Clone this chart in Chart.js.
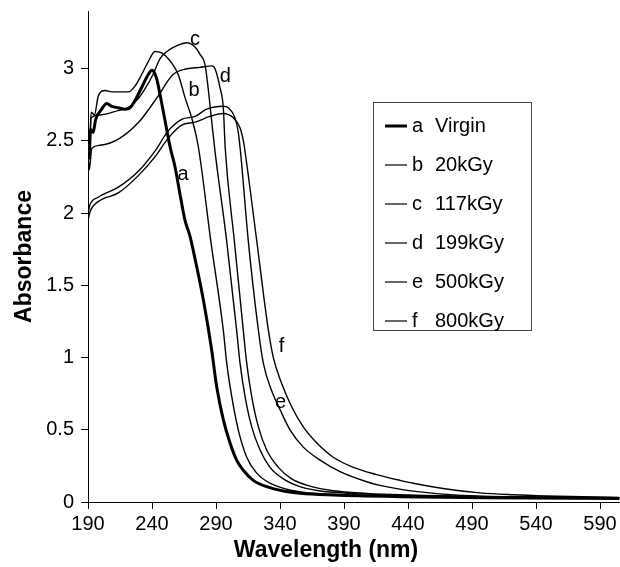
<!DOCTYPE html>
<html lang="en">
<head>
    <meta charset="UTF-8">
    <title>Absorbance spectra</title>
    <script src="https://cdn.jsdelivr.net/npm/chart.js"></script>
    <style>
        html, body {
            margin: 0;
            padding: 0;
            background-color: #fff;
        }
        #wrap {
            width: 620px;
            height: 567px;
        }
    </style>
</head>
<body>
    <div id="wrap">
        <canvas id="uv-chart" width="620" height="567"></canvas>
    </div>

    <script>
        // wavelength (nm) and absorbance
        const aNm  = [190, 190.8, 192, 194, 196, 200.7, 204.6, 208.5, 213.7, 218.9, 222.8, 226.7, 231.9, 237.1, 240, 241.5, 243.7, 246.3, 250.2, 254.1, 258, 261.9, 265.8, 269.7, 274.9, 280.1, 286.5, 290.5, 295.7, 300.9, 306.1, 311.3, 319.1, 329.6, 342.6, 355.6, 381.6, 433.8, 500, 605];
        const aAbs = [2.45, 2.38, 2.58, 2.56, 2.65, 2.72, 2.76, 2.74, 2.73, 2.72, 2.73, 2.78, 2.87, 2.96, 2.99, 2.98, 2.93, 2.82, 2.64, 2.46, 2.32, 2.13, 1.95, 1.84, 1.63, 1.40, 1.06, 0.80, 0.57, 0.41, 0.29, 0.22, 0.15, 0.106, 0.076, 0.06, 0.048, 0.037, 0.03, 0.025];

        const bNm  = [190, 191, 192.5, 195, 198, 203.3, 208.5, 213.7, 221.5, 226.7, 231.9, 237.1, 242.3, 247.5, 255.4, 260.5, 265.8, 271, 276.2, 285.9, 295.7, 298.4, 302.3, 307.4, 314, 321.8, 332.2, 345.2, 360.8, 381.6, 433.8, 500, 605];
        const bAbs = [2.62, 2.45, 2.70, 2.68, 2.81, 2.85, 2.84, 2.84, 2.84, 2.88, 2.96, 3.05, 3.12, 3.11, 3.04, 2.96, 2.80, 2.66, 2.46, 1.81, 1.19, 0.96, 0.73, 0.50, 0.31, 0.20, 0.13, 0.088, 0.064, 0.053, 0.041, 0.033, 0.028];

        const cNm  = [190, 191, 192.5, 199.4, 213.4, 221.2, 229, 234.5, 240.8, 246.3, 251.7, 259.5, 267.3, 273.6, 277.5, 281.4, 283.8, 286.6, 289.2, 298.3, 306.1, 308.8, 312.7, 317.9, 324.4, 332.2, 342.6, 355.6, 371.3, 394.7, 433.8, 500, 605];
        const cAbs = [2.55, 2.40, 2.66, 2.68, 2.71, 2.73, 2.79, 2.86, 2.96, 3.07, 3.12, 3.16, 3.18, 3.15, 3.10, 3.03, 2.87, 2.64, 2.43, 1.81, 1.19, 0.96, 0.73, 0.52, 0.36, 0.24, 0.16, 0.106, 0.076, 0.06, 0.046, 0.036, 0.03];

        const dNm  = [190, 191, 193, 199.4, 215, 230.6, 243.9, 256.4, 267.3, 277.5, 286.6, 289.2, 293.1, 295.7, 297.2, 304.3, 311.3, 314, 317.9, 323.1, 329.6, 338.7, 349.1, 363.4, 381.6, 407.7, 433.8, 500, 605];
        const dAbs = [2.42, 2.30, 2.45, 2.47, 2.52, 2.64, 2.80, 2.96, 3.00, 3.01, 3.02, 3.00, 2.87, 2.73, 2.45, 1.81, 1.19, 0.96, 0.73, 0.52, 0.36, 0.24, 0.16, 0.11, 0.078, 0.06, 0.05, 0.038, 0.03];

        const eNm  = [190, 191.6, 198, 213.7, 229.3, 242.3, 252.7, 263.2, 273.6, 282.7, 295.7, 299.6, 304.8, 307.4, 309.2, 315.2, 323.1, 327, 333.5, 340, 347.8, 358.2, 371.3, 386.9, 407.7, 418, 444, 470, 496, 548, 605];
        const eAbs = [2.00, 2.06, 2.11, 2.18, 2.29, 2.43, 2.57, 2.65, 2.67, 2.72, 2.74, 2.73, 2.66, 2.56, 2.42, 1.81, 1.19, 0.96, 0.77, 0.64, 0.50, 0.38, 0.29, 0.21, 0.14, 0.115, 0.075, 0.053, 0.041, 0.032, 0.028];

        const fNm  = [190, 191.6, 198, 213.7, 229.3, 242.3, 252.7, 263.2, 273.6, 285.2, 295.7, 303.5, 308.8, 311.4, 312.8, 321.8, 330.9, 334.8, 341.3, 349.1, 358.2, 368.6, 381.6, 397.3, 415.5, 433.8, 444, 470, 496, 522, 548, 605];
        const fAbs = [1.95, 2.01, 2.08, 2.14, 2.26, 2.39, 2.52, 2.61, 2.63, 2.67, 2.69, 2.66, 2.59, 2.50, 2.42, 1.81, 1.19, 1.00, 0.82, 0.66, 0.52, 0.41, 0.31, 0.24, 0.19, 0.15, 0.13, 0.09, 0.063, 0.05, 0.042, 0.032];

        const seriesLetters = ['a', 'b', 'c', 'd', 'e', 'f'];
        const seriesNames = ['Virgin', '20kGy', '117kGy', '199kGy', '500kGy', '800kGy'];

        // where the letters sit next to the curves (data coordinates)
        const labelNm  = [264.2, 272.8, 273.6, 297.3, 340.4, 341.2];
        const labelAbs = [2.27, 2.85, 3.20, 2.95, 0.69, 1.08];

        const xTicks = [190, 240, 290, 340, 390, 440, 490, 540, 590];
        const yTicks = [0, 0.5, 1, 1.5, 2, 2.5, 3];

        const FONT = '"Liberation Sans", Arial, Helvetica, sans-serif';

        function toPoints(xs, ys) {
            return xs.map((x, i) => ({ x: x, y: ys[i] }));
        }

        const allNm = [aNm, bNm, cNm, dNm, eNm, fNm];
        const allAbs = [aAbs, bAbs, cAbs, dAbs, eAbs, fAbs];

        const datasets = allNm.map((nm, i) => ({
            label: seriesLetters[i] + ' ' + seriesNames[i],
            data: toPoints(nm, allAbs[i]),
            borderColor: '#000',
            borderWidth: i === 0 ? 3 : 1.4,
            pointRadius: 0,
            fill: false,
            cubicInterpolationMode: 'monotone'
        }));

        // letters on curves, legend box and x axis title
        const annotations = {
            id: 'annotations',
            afterDraw(chart) {
                const ctx = chart.ctx;
                const xs = chart.scales.x;
                const ys = chart.scales.y;
                ctx.save();
                ctx.fillStyle = '#000';
                ctx.font = '20px ' + FONT;
                ctx.textAlign = 'center';
                ctx.textBaseline = 'middle';
                seriesLetters.forEach((l, i) => {
                    ctx.fillText(l, xs.getPixelForValue(labelNm[i]), ys.getPixelForValue(labelAbs[i]));
                });

                // legend
                ctx.strokeStyle = '#444';
                ctx.lineWidth = 1;
                ctx.strokeRect(373.5, 102.5, 158, 228);
                ctx.textAlign = 'left';
                seriesLetters.forEach((l, i) => {
                    const y = 126 + i * 39;
                    ctx.beginPath();
                    ctx.strokeStyle = '#000';
                    ctx.lineWidth = i === 0 ? 3 : 1.2;
                    ctx.moveTo(385, y);
                    ctx.lineTo(407, y);
                    ctx.stroke();
                    ctx.fillText(l, 412, y);
                    ctx.fillText(seriesNames[i], 435, y);
                });

                ctx.font = 'bold 23px ' + FONT;
                ctx.textAlign = 'center';
                ctx.fillText('Wavelength (nm)', 326, 551);
                ctx.restore();
            }
        };

        const chart = new Chart(document.getElementById('uv-chart').getContext('2d'), {
            type: 'line',
            data: { datasets: datasets },
            options: {
                responsive: false,
                animation: false,
                layout: { padding: { top: 11, right: 0, bottom: 0, left: 0 } },
                plugins: {
                    legend: { display: false },
                    tooltip: { enabled: false }
                },
                scales: {
                    x: {
                        type: 'linear',
                        min: 190,
                        max: 605.6,
                        afterBuildTicks: s => { s.ticks = xTicks.map(v => ({ value: v })); },
                        afterFit: s => {
                            s.height = 65;
                            s.paddingLeft = 0;
                            s.paddingRight = 0;
                        },
                        ticks: {
                            color: '#000',
                            font: { size: 20, family: FONT },
                            padding: 3,
                            maxRotation: 0,
                            autoSkip: false
                        },
                        grid: { drawOnChartArea: false, color: '#000', tickLength: 7 },
                        border: { color: '#000', width: 1 }
                    },
                    y: {
                        min: 0,
                        max: 3.4,
                        afterBuildTicks: s => { s.ticks = yTicks.map(v => ({ value: v })); },
                        afterFit: s => {
                            s.width = 88;
                            s.paddingTop = 0;
                            s.paddingBottom = 0;
                        },
                        ticks: {
                            color: '#000',
                            font: { size: 20, family: FONT },
                            padding: 7,
                            callback: v => String(v)
                        },
                        grid: { drawOnChartArea: false, color: '#000', tickLength: 7 },
                        border: { color: '#000', width: 1 },
                        title: {
                            display: true,
                            text: 'Absorbance',
                            color: '#000',
                            font: { size: 23, weight: 'bold', family: FONT },
                            padding: { top: 11, bottom: 0 }
                        }
                    }
                }
            },
            plugins: [annotations]
        });
    </script>
</body>
</html>
